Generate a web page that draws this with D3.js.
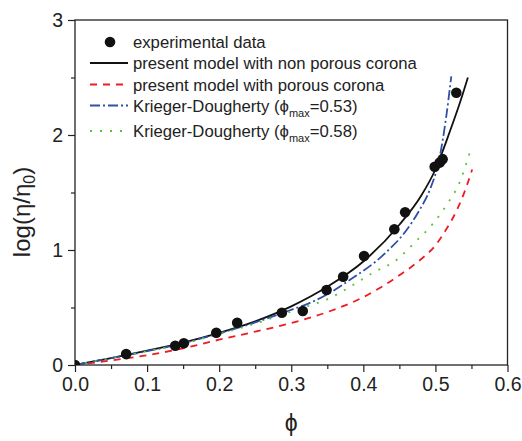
<!DOCTYPE html>
<html>
<head>
<meta charset="utf-8">
<script src="https://cdn.jsdelivr.net/npm/d3@7"></script>
<style>
  body { margin: 0; background: #fff; }
  svg { display: block; font-family: "Liberation Sans", Arial, sans-serif; }
</style>
</head>
<body>
<svg id="chart" width="522" height="441"></svg>
<script>
// experimental points
var phiExp    = [0, 0.071, 0.139, 0.151, 0.196, 0.225, 0.287, 0.316, 0.349, 0.372, 0.401, 0.443, 0.458, 0.499, 0.506, 0.510, 0.529];
var logEtaExp = [0, 0.095, 0.168, 0.189, 0.281, 0.368, 0.455, 0.470, 0.652, 0.768, 0.948, 1.180, 1.328, 1.724, 1.760, 1.790, 2.368];

// present model, non porous corona
var phiNonPorous = [0, 0.05, 0.10, 0.15, 0.20, 0.25, 0.30, 0.35, 0.40, 0.45, 0.48, 0.50, 0.52, 0.535, 0.545];
var logNonPorous = [0, 0.06, 0.125, 0.195, 0.28, 0.38, 0.51, 0.68, 0.90, 1.22, 1.47, 1.70, 2.03, 2.30, 2.50];

// present model, porous corona
var phiPorous = [0, 0.05, 0.10, 0.15, 0.20, 0.25, 0.30, 0.35, 0.40, 0.45, 0.48, 0.50, 0.515, 0.53, 0.543, 0.551];
var logPorous = [0, 0.04, 0.085, 0.145, 0.22, 0.29, 0.365, 0.46, 0.59, 0.78, 0.92, 1.04, 1.18, 1.35, 1.55, 1.70];

// Krieger-Dougherty, phi_max = 0.53
var phiKD53 = [0, 0.05, 0.10, 0.15, 0.20, 0.25, 0.30, 0.326, 0.353, 0.381, 0.43, 0.46, 0.478, 0.492, 0.506, 0.515, 0.522];
var logKD53 = [0, 0.06, 0.12, 0.19, 0.275, 0.37, 0.48, 0.54, 0.625, 0.739, 0.97, 1.174, 1.348, 1.52, 1.81, 2.16, 2.51];

// Krieger-Dougherty, phi_max = 0.58
var phiKD58 = [0, 0.05, 0.10, 0.15, 0.20, 0.25, 0.30, 0.32, 0.353, 0.374, 0.416, 0.446, 0.471, 0.497, 0.517, 0.533, 0.543, 0.548];
var logKD58 = [0, 0.06, 0.12, 0.185, 0.27, 0.36, 0.465, 0.507, 0.58, 0.652, 0.811, 0.913, 1.064, 1.232, 1.406, 1.58, 1.754, 1.855];

var xTicks = [0, 0.1, 0.2, 0.3, 0.4, 0.5, 0.6];
var yTicks = [0, 1, 2, 3];

var legendLabels = ["experimental data", "present model with non porous corona", "present model with porous corona",
                    "Krieger-Dougherty (", "Krieger-Dougherty ("];

var plotLeft = 75, plotRight = 507.5, plotTop = 20, plotBottom = 365;

var svg = d3.select("#chart");

var x = d3.scaleLinear().domain([0, 0.6]).range([plotLeft, plotRight]);
var y = d3.scaleLinear().domain([0, 3]).range([plotBottom, plotTop]);

svg.append("clipPath").attr("id", "plotClip")
    .append("rect")
    .attr("x", plotLeft).attr("y", plotTop)
    .attr("width", plotRight - plotLeft).attr("height", plotBottom - plotTop);

// axes
var xAxis = d3.axisBottom(x).tickValues(xTicks).tickFormat(d3.format(".1f")).tickSizeOuter(0).tickSize(7).tickPadding(5);
var xMinor = d3.axisBottom(x).tickValues(d3.range(0.05, 0.6, 0.1)).tickFormat("").tickSizeOuter(0).tickSize(4);
var yAxis = d3.axisLeft(y).tickValues(yTicks).tickFormat(d3.format("d")).tickSizeOuter(0).tickSize(7).tickPadding(5);
var yMinor = d3.axisLeft(y).tickValues([0.5, 1.5, 2.5]).tickFormat("").tickSizeOuter(0).tickSize(4);

function styleAxis(g){
    g.select(".domain").remove();
    g.selectAll("line").attr("stroke", "#222").attr("stroke-width", 1.2);
    g.selectAll("text").attr("fill", "#222").style("font-size", "19.5px")
        .style("font-family", "'Liberation Sans', Arial, sans-serif");
}

svg.append("g").attr("transform", `translate(0,${plotBottom})`).call(xAxis).call(styleAxis);
svg.append("g").attr("transform", `translate(0,${plotBottom})`).call(xMinor).call(styleAxis);
svg.append("g").attr("transform", `translate(${plotLeft},0)`).call(yAxis).call(styleAxis);
svg.append("g").attr("transform", `translate(${plotLeft},0)`).call(yMinor).call(styleAxis);

// frame
svg.append("rect")
    .attr("x", plotLeft).attr("y", plotTop)
    .attr("width", plotRight - plotLeft).attr("height", plotBottom - plotTop)
    .attr("fill", "none").attr("stroke", "#222").attr("stroke-width", 1.3);

// curves
var line = d3.line()
    .x(d => x(d[0]))
    .y(d => y(d[1]))
    .curve(d3.curveMonotoneX);

var curves = [
    {xs: phiNonPorous, ys: logNonPorous, color: "#111", dash: null},
    {xs: phiPorous, ys: logPorous, color: "#ee1c24", dash: "7,6"},
    {xs: phiKD53, ys: logKD53, color: "#2e50a6", dash: "10,3,2,3"},
    {xs: phiKD58, ys: logKD58, color: "#5dbf3c", dash: "2,8"}
];

var plot = svg.append("g").attr("clip-path", "url(#plotClip)");

plot.selectAll("path.curve")
    .data(curves)
    .join("path")
    .attr("class", "curve")
    .attr("d", c => line(c.xs.map((v, i) => [v, c.ys[i]])))
    .attr("fill", "none")
    .attr("stroke", c => c.color)
    .attr("stroke-width", 1.8)
    .attr("stroke-dasharray", c => c.dash);

plot.selectAll("circle.exp")
    .data(phiExp.map((v, i) => [v, logEtaExp[i]]))
    .join("circle")
    .attr("class", "exp")
    .attr("cx", d => x(d[0]))
    .attr("cy", d => y(d[1]))
    .attr("r", 5.3)
    .attr("fill", "#111");

// legend
var rowsY = [42, 63, 84.5, 105.5, 131];
var legend = svg.append("g");
var textX = 133;

legend.append("circle").attr("cx", 110).attr("cy", rowsY[0]).attr("r", 5.3).attr("fill", "#111");
curves.forEach(function(c, i){
    legend.append("line")
        .attr("x1", 90).attr("x2", 128)
        .attr("y1", rowsY[i + 1]).attr("y2", rowsY[i + 1])
        .attr("stroke", c.color).attr("stroke-width", 1.8)
        .attr("stroke-dasharray", c.dash);
});

var phiMax = ["0.53", "0.58"];
legendLabels.forEach(function(lab, i){
    var t = legend.append("text")
        .attr("x", textX).attr("y", rowsY[i] + 6)
        .attr("fill", "#222")
        .style("font-size", "16.7px")
        .text(lab);
    if(i >= 3){
        t.append("tspan").text("\u03d5");
        t.append("tspan").attr("dy", 5).style("font-size", "11px").text("max");
        t.append("tspan").attr("dy", -5).text("=" + phiMax[i - 3] + ")");
    }
});

// axis titles
var yTitle = svg.append("text")
    .attr("transform", "translate(30,212) rotate(-90)")
    .attr("text-anchor", "middle")
    .attr("fill", "#222")
    .style("font-size", "24px");
yTitle.append("tspan").text("log(\u03b7/\u03b7");
yTitle.append("tspan").attr("dy", 5).style("font-size", "16px").text("0");
yTitle.append("tspan").attr("dy", -5).text(")");

svg.append("text")
    .attr("x", (plotLeft + plotRight) / 2).attr("y", 431)
    .attr("text-anchor", "middle")
    .attr("fill", "#222")
    .style("font-size", "23px")
    .text("\u03d5");
</script>
</body>
</html>
